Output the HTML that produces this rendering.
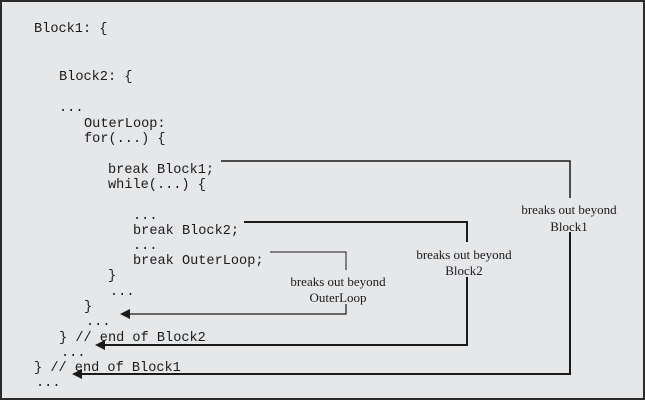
<!DOCTYPE html>
<html><head><meta charset="utf-8"><style>
html,body{margin:0;padding:0;background:#e6e7e9;}
svg{display:block;}
.c{font-family:"Liberation Mono",monospace;font-size:13.6px;fill:#1a1a1a;}
.l{font-family:"Liberation Serif",serif;font-size:13px;fill:#1a1a1a;text-anchor:middle;}
</style></head><body>
<svg width="645" height="400" xmlns="http://www.w3.org/2000/svg">
<rect x="1" y="1" width="643" height="398" fill="#e6e7e9" stroke="#2a2a2a" stroke-width="2"/>
<g class="c">
<text x="34" y="32">Block1: {</text>
<text x="59" y="80">Block2: {</text>
<text x="59" y="111">...</text>
<text x="84" y="127">OuterLoop:</text>
<text x="84" y="142">for(...) {</text>
<text x="108" y="173">break Block1;</text>
<text x="108" y="188">while(...) {</text>
<text x="133" y="219">...</text>
<text x="133" y="234">break Block2;</text>
<text x="133" y="249">...</text>
<text x="133" y="264">break OuterLoop;</text>
<text x="108" y="279">}</text>
<text x="110" y="295">...</text>
<text x="84" y="310">}</text>
<text x="86" y="325">...</text>
<text x="59" y="341">} // end of Block2</text>
<text x="61" y="356">...</text>
<text x="34" y="371">} // end of Block1</text>
<text x="36" y="386">...</text>
</g>
<g fill="none" stroke="#1a1a1a">
<polyline points="221,161 570,161 570,198" stroke-width="1.5"/>
<polyline points="570,232 570,374 80,374" stroke-width="2"/>
<polyline points="244,222 467,222 467,242" stroke-width="2"/>
<polyline points="467,277 467,345 103,345" stroke-width="2"/>
<polyline points="270,252 346,252 346,270" stroke-width="1"/>
<polyline points="346,304 346,314 128,314" stroke-width="1.2"/>
</g>
<g fill="#1a1a1a">
<polygon points="72,374 82,369 82,379"/>
<polygon points="95,345 105,340 105,350"/>
<polygon points="120,314 130,309 130,319"/>
</g>
<text class="l" x="569" y="214">breaks out beyond</text>
<text class="l" x="569" y="231">Block1</text>
<text class="l" x="464" y="259">breaks out beyond</text>
<text class="l" x="464" y="275">Block2</text>
<text class="l" x="338" y="286">breaks out beyond</text>
<text class="l" x="338" y="302">OuterLoop</text>
</svg>
</body></html>
